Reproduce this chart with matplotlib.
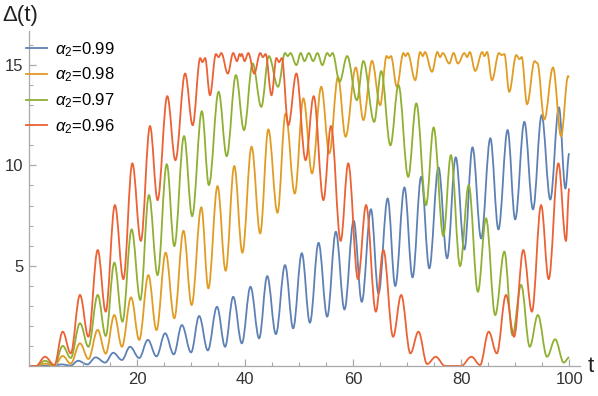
import matplotlib
matplotlib.use("Agg")
import matplotlib.pyplot as plt
from matplotlib.path import Path
from matplotlib.patches import PathPatch
from matplotlib.lines import Line2D
from matplotlib.ticker import MultipleLocator

BLUE = "#5E81B5"
ORANGE = "#E19C24"
GREEN = "#8FB032"
RED = "#EB6235"

# extrema (peaks / troughs), alternating
blue_t = [0, 1.3, 2.9, 4.5, 6.0, 7.7, 9.1, 10.8, 12.35, 14.1, 15.6, 17.2, 18.7, 20.4,
          22.0, 23.6, 25.2, 26.8, 28.3, 30.0, 31.5, 33.1, 34.8, 36.3, 37.8, 39.4,
          41.0, 42.6, 44.1, 45.7, 47.4, 48.9, 50.5, 52.0, 53.6, 55.2, 56.8, 58.4,
          60.1, 61.6, 63.3, 64.7, 66.4, 67.8, 69.5, 71.0, 72.6, 74.1, 75.8, 77.4,
          79.0, 80.6, 82.1, 83.7, 85.4, 86.9, 88.6, 90.0, 91.7, 93.3, 94.9, 96.5,
          98.1, 99.3, 100]
blue_v = [0, 0, 0.02, 0.0, 0.08, 0.02, 0.26, 0.08, 0.43, 0.17, 0.66, 0.3, 0.96, 0.4,
          1.30, 0.48, 1.63, 0.58, 2.04, 0.68, 2.49, 0.78, 2.95, 0.96, 3.45, 1.13,
          3.95, 1.38, 4.48, 1.59, 5.03, 1.88, 5.62, 2.16, 6.14, 2.46, 6.69, 2.82,
          7.24, 3.2, 7.81, 3.62, 8.35, 3.99, 8.9, 4.42, 9.43, 4.87, 9.9, 5.37,
          10.4, 5.81, 10.9, 6.36, 11.35, 6.81, 11.76, 7.31, 12.17, 7.81, 12.5, 8.3,
          12.89, 8.85, 10.6]

orange_t = [0, 1.3, 2.96, 4.7, 6.24, 7.72, 9.44, 11.0, 12.72, 14.2, 15.8, 17.2, 18.9,
            20.4, 22.1, 23.6, 25.3, 26.9, 28.6, 30.1, 31.9, 33.2, 34.9, 36.4, 38.0,
            39.5, 41.2, 42.8, 44.3, 46.0, 47.5, 49.2, 50.8, 52.4, 54.1, 55.6, 57.2,
            58.6, 60.5, 61.9, 63.5, 65.0, 66.2, 66.6, 67.0, 68.1, 69.3, 69.7, 70.1,
            71.5, 72.4, 72.9, 73.3, 74.6, 75.6, 76.1, 76.6, 77.8, 78.6, 79.4, 80.6,
            81.1, 81.6, 82.6, 83.9, 84.3, 84.8, 85.7, 87.0, 87.5, 88.0, 88.9, 90.2,
            90.8, 91.2, 92.2, 93.6, 94.1, 95.4, 97.0, 98.5, 99.8, 100]
orange_v = [0, 0, 0.12, 0.01, 0.5, 0.12, 1.13, 0.35, 1.8, 0.62, 2.54, 0.96, 3.42,
            1.30, 4.53, 1.79, 5.65, 2.38, 6.74, 3.04, 7.91, 3.87, 8.97, 4.75, 9.97,
            5.65, 10.93, 6.61, 11.79, 7.64, 12.59, 8.6, 13.34, 9.6, 13.92, 10.6, 14.41,
            11.43, 14.88, 12.26, 15.21, 13.0, 15.45, 15.35, 15.45, 13.92, 15.6, 15.45, 15.6,
            14.25, 15.65, 15.45, 15.65, 14.67, 15.65, 15.4, 15.6, 15.08, 15.6, 15.08, 15.6,
            15.4, 15.65, 14.71, 15.65, 15.45, 15.65, 14.25, 15.6, 15.5, 15.55, 13.67, 15.5,
            15.3, 15.4, 13.05, 15.2, 15.1, 12.29, 14.88, 11.46, 14.45, 14.4]

green_t = [0, 1.3, 2.96, 4.7, 6.24, 7.72, 9.44, 11.0, 12.72, 14.2, 15.8, 17.3, 19.0,
           20.6, 22.2, 23.8, 25.5, 26.9, 28.7, 30.2, 32.0, 33.3, 35.1, 36.6, 38.3,
           39.8, 41.4, 43.0, 44.4, 46.1, 47.4, 47.9, 48.4, 49.5, 50.3, 51.0, 51.8,
           52.6, 53.4, 54.3, 55.2, 55.7, 56.2, 57.5, 58.9, 60.7, 61.9, 63.9, 65.2,
           66.9, 68.4, 70.2, 71.7, 73.5, 74.9, 76.7, 78.1, 79.8, 81.4, 83.1, 84.6,
           86.3, 88.0, 89.5, 91.1, 92.7, 94.2, 95.9, 97.4, 99.0, 100]
green_v = [0, 0, 0.26, 0.03, 1.0, 0.4, 2.13, 0.96, 3.54, 1.5, 5.15, 2.21, 6.81,
           3.29, 8.52, 4.53, 10.06, 5.98, 11.46, 7.47, 12.7, 9.02, 13.67, 10.46, 14.5,
           11.76, 15.08, 12.92, 15.45, 13.92, 15.6, 15.45, 15.6, 15.0, 15.6, 15.2, 15.6,
           15.2, 15.6, 15.0, 15.6, 15.45, 15.6, 14.17, 15.45, 13.25, 15.2, 12.17, 14.7,
           11.0, 14.0, 9.43, 13.09, 8.02, 11.89, 6.48, 10.51, 4.98, 9.02, 3.7, 7.36,
           2.54, 5.7, 1.54, 4.04, 0.96, 2.54, 0.46, 1.33, 0.17, 0.43]

red_t = [0, 1.3, 2.96, 4.7, 6.24, 7.72, 9.44, 10.99, 12.72, 14.2, 15.9, 17.47, 19.13,
         20.7, 22.4, 23.8, 25.6, 27.1, 28.9, 30.3, 31.7, 32.1, 32.6, 33.5, 34.6,
         35.1, 35.6, 36.8, 37.8, 38.5, 39.0, 39.2, 39.4, 39.9, 40.6, 41.7, 42.8,
         43.3, 43.8, 44.9, 45.8, 46.3, 46.8, 48.0, 49.5, 51.2, 52.7, 54.5, 55.9,
         57.7, 59.1, 60.9, 62.4, 64.2, 65.6, 67.4, 68.9, 70.6, 72.1, 73.7, 75.3,
         77.0, 80.0, 81.9, 83.5, 85.1, 86.6, 88.3, 89.8, 91.5, 93.1, 94.8, 96.2,
         98.0, 99.4, 100]
red_v = [0, 0, 0.46, 0.05, 1.71, 0.63, 3.54, 1.46, 5.78, 2.71, 8.02, 4.33, 10.1,
         6.24, 11.96, 8.27, 13.45, 10.26, 14.58, 12.0, 15.35, 15.15, 15.35, 13.5, 15.55,
         15.4, 15.6, 14.58, 15.6, 15.2, 15.55, 15.45, 15.55, 15.2, 15.6, 14.58, 15.6,
         15.4, 15.55, 13.5, 15.35, 15.15, 15.35, 12.0, 14.58, 10.26, 13.45, 8.27, 11.96,
         6.24, 10.1, 4.33, 8.02, 2.71, 5.78, 1.46, 3.54, 0.63, 1.71, 0.1, 0.46,
         0.0, 0.0, 0.46, 0.05, 1.71, 0.63, 3.54, 1.46, 5.78, 2.71, 8.02, 4.33,
         10.1, 6.24, 8.85]

series = [
    (blue_t, blue_v, BLUE, r"$\alpha_2$=0.99"),
    (orange_t, orange_v, ORANGE, r"$\alpha_2$=0.98"),
    (green_t, green_v, GREEN, r"$\alpha_2$=0.97"),
    (red_t, red_v, RED, r"$\alpha_2$=0.96"),
]


def smooth_path(t, v, k=0.364):
    # cubic segments with flat tangents at each extremum
    verts = [(t[0], v[0])]
    codes = [Path.MOVETO]
    for i in range(len(t) - 1):
        dt = t[i + 1] - t[i]
        verts += [(t[i] + k * dt, v[i]), (t[i + 1] - k * dt, v[i + 1]), (t[i + 1], v[i + 1])]
        codes += [Path.CURVE4] * 3
    return Path(verts, codes)


plt.rcParams['font.family'] = ['Liberation Sans', 'DejaVu Sans']
plt.rcParams['mathtext.fontset'] = 'custom'
plt.rcParams['mathtext.it'] = 'Liberation Sans:italic'
plt.rcParams['mathtext.rm'] = 'Liberation Sans'

fig = plt.figure(figsize=(5.98, 3.96), dpi=100)
ax = fig.add_axes([29 / 598, 30 / 396, 551 / 598, 335 / 396])

for t, v, col, lab in series:
    ax.add_patch(PathPatch(smooth_path(t, v), facecolor='none', edgecolor=col, lw=1.3))

ax.set_xlim(0, 102)
ax.set_ylim(0, 16.7)

AXIS_GRAY = "#a8a8a8"
for side in ['top', 'right']:
    ax.spines[side].set_visible(False)
for side in ['left', 'bottom']:
    ax.spines[side].set_color(AXIS_GRAY)
    ax.spines[side].set_linewidth(0.9)

ax.xaxis.set_major_locator(MultipleLocator(20))
ax.xaxis.set_minor_locator(MultipleLocator(5))
ax.yaxis.set_major_locator(MultipleLocator(5))
ax.yaxis.set_minor_locator(MultipleLocator(1))
ax.set_xticks([20, 40, 60, 80, 100])
ax.set_yticks([5, 10, 15])
ax.tick_params(which='both', direction='in', color=AXIS_GRAY, labelcolor='#333333',
               labelsize=12)
ax.tick_params(which='major', length=5, width=0.9)
ax.tick_params(which='minor', length=3, width=0.8)
ax.tick_params(axis='x', pad=4)
ax.tick_params(axis='y', pad=4)

fig.text(2 / 598, 1 - 16 / 396, "Δ(t)", fontsize=16, color='#222222', va='center', ha='left')
fig.text(588 / 598, 1 - 367 / 396, "t", fontsize=16, color='#222222', va='center', ha='left')

handles = [Line2D([], [], color=c, lw=1.3) for _, _, c, _ in series]
labels = [lab for _, _, _, lab in series]
fig.legend(handles, labels, loc='upper left', bbox_to_anchor=(26 / 598, 1 - 40 / 396),
           frameon=False, fontsize=12, handlelength=1.25, handletextpad=0.5,
           labelspacing=0.42, borderpad=0, borderaxespad=0)

fig.savefig("out.png", dpi=100)
